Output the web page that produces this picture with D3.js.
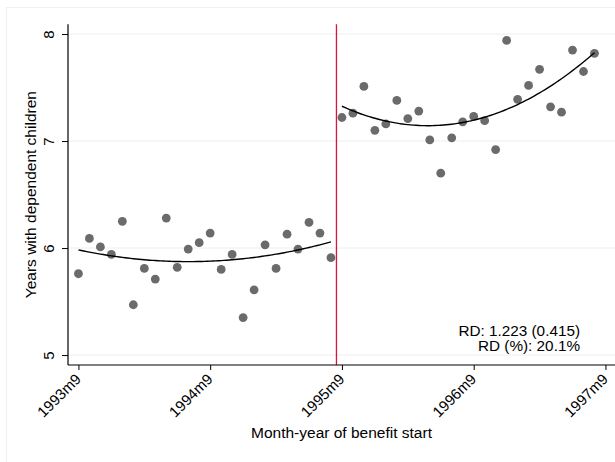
<!DOCTYPE html>
<html>
<head>
<meta charset="utf-8">
<script src="https://cdn.jsdelivr.net/npm/d3@7/dist/d3.min.js"></script>
<style>
  html, body { margin: 0; padding: 0; background: #ffffff; }
  svg { display: block; }
  text { font-family: "Liberation Sans", Arial, Helvetica, sans-serif; fill: #000; }
</style>
</head>
<body>
<svg id="chart" width="615" height="462"></svg>
<script>
// Month index 0 = 1993m9; cutoff between 1995m8 (23) and 1995m9 (24)
const cutoff = 23.5;
const leftMonths  = d3.range(0, 24);
const rightMonths = d3.range(24, 48);

// Mean years with dependent children, by month of benefit start
const leftValues = [5.76, 6.09, 6.01, 5.94, 6.25, 5.47, 5.81, 5.71, 6.28, 5.82, 5.99, 6.05,
                    6.14, 5.80, 5.94, 5.35, 5.61, 6.03, 5.81, 6.13, 5.99, 6.24, 6.14, 5.91];
const rightValues = [7.22, 7.26, 7.51, 7.10, 7.16, 7.38, 7.21, 7.28, 7.01, 6.70, 7.03, 7.18,
                     7.23, 7.19, 6.92, 7.94, 7.39, 7.52, 7.67, 7.32, 7.27, 7.85, 7.65, 7.82];

const xTickMonths = [0, 12, 24, 36, 48];
const xTickLabels = ["1993m9", "1994m9", "1995m9", "1996m9", "1997m9"];
const yTicks = [5, 6, 7, 8];

const rdLines = ["RD: 1.223 (0.415)", "RD (%): 20.1%"];
const xTitle = "Month-year of benefit start";
const yTitle = "Years with dependent children";

const svg = d3.select("#chart");
const plot = { left: 68, right: 615, top: 24.3, bottom: 365 };

const x = d3.scaleLinear().domain([-0.95, 48.87]).range([plot.left, plot.right]);
const y = d3.scaleLinear().domain([4.907, 8.091]).range([plot.bottom, plot.top]);

// faint outer graph-region border
svg.append("rect")
  .attr("x", 6.5).attr("y", 7.5).attr("width", 640).attr("height", 480)
  .attr("fill", "none").attr("stroke", "#eaf1f3").attr("stroke-width", 1);

// horizontal grid lines
svg.append("g").selectAll("line").data(yTicks).join("line")
  .attr("x1", plot.left).attr("x2", plot.right)
  .attr("y1", d => y(d)).attr("y2", d => y(d))
  .attr("stroke", "#e8f0f2").attr("stroke-width", 1);

// quadratic least-squares fit on each side of the cutoff
function quadFit(xs, ys) {
  const S = [0, 0, 0, 0, 0];
  const T = [0, 0, 0];
  xs.forEach((xv, i) => {
    const u = xv - cutoff;
    for (let k = 0; k < 5; k++) S[k] += Math.pow(u, k);
    for (let k = 0; k < 3; k++) T[k] += ys[i] * Math.pow(u, k);
  });
  const A = [[S[0], S[1], S[2], T[0]], [S[1], S[2], S[3], T[1]], [S[2], S[3], S[4], T[2]]];
  for (let c = 0; c < 3; c++) {
    for (let r = c + 1; r < 3; r++) {
      const f = A[r][c] / A[c][c];
      for (let k = c; k < 4; k++) A[r][k] -= f * A[c][k];
    }
  }
  const b = [0, 0, 0];
  for (let r = 2; r >= 0; r--) {
    let s = A[r][3];
    for (let k = r + 1; k < 3; k++) s -= A[r][k] * b[k];
    b[r] = s / A[r][r];
  }
  return t => b[0] + b[1] * (t - cutoff) + b[2] * (t - cutoff) * (t - cutoff);
}

const leftFit = quadFit(leftMonths, leftValues);
const rightFit = quadFit(rightMonths, rightValues);

const line = d3.line().x(d => x(d[0])).y(d => y(d[1]));
function fitPath(f, t0, t1) {
  const pts = [];
  for (let t = t0; t <= t1 + 1e-9; t += 0.25) pts.push([t, f(t)]);
  return pts;
}

// points
const pts = leftMonths.map((m, i) => [m, leftValues[i]])
  .concat(rightMonths.map((m, i) => [m, rightValues[i]]));
svg.append("g").selectAll("circle").data(pts).join("circle")
  .attr("cx", d => x(d[0])).attr("cy", d => y(d[1])).attr("r", 4.4)
  .attr("fill", "#6b6b6b");

// fitted curves
svg.append("path").datum(fitPath(leftFit, 0, 23))
  .attr("d", line).attr("fill", "none").attr("stroke", "#000").attr("stroke-width", 1.4);
svg.append("path").datum(fitPath(rightFit, 24, 47))
  .attr("d", line).attr("fill", "none").attr("stroke", "#000").attr("stroke-width", 1.4);

// cutoff line
svg.append("line")
  .attr("x1", x(cutoff)).attr("x2", x(cutoff))
  .attr("y1", plot.top).attr("y2", plot.bottom)
  .attr("stroke", "#dc143c").attr("stroke-width", 1.3);

// y axis
const yAxis = svg.append("g").attr("transform", `translate(${plot.left},0)`)
  .call(d3.axisLeft(y).tickValues(yTicks).tickSize(6).tickFormat(d3.format("d")));
yAxis.select(".domain").attr("d", `M0,${plot.top}V${plot.bottom}`).attr("stroke", "#000").attr("stroke-width", 1.2);
yAxis.selectAll(".tick line").attr("stroke", "#000");
yAxis.selectAll(".tick text")
  .attr("x", null).attr("dy", null)
  .attr("transform", "translate(-14,0) rotate(-90)")
  .attr("text-anchor", "middle")
  .style("font-size", "15px")
  .style("font-family", "'Liberation Sans', Arial, sans-serif");

// x axis
const xAxis = svg.append("g").attr("transform", `translate(0,${plot.bottom})`)
  .call(d3.axisBottom(x).tickValues(xTickMonths).tickSize(5)
    .tickFormat((d, i) => xTickLabels[i]));
xAxis.select(".domain").attr("d", `M${plot.left},0H${plot.right}`).attr("stroke", "#000").attr("stroke-width", 1.2);
xAxis.selectAll(".tick line").attr("stroke", "#000");
xAxis.selectAll(".tick text")
  .attr("y", null).attr("dy", null)
  .attr("transform", "translate(3,15) rotate(-45)")
  .attr("text-anchor", "end")
  .style("font-size", "15px")
  .style("font-family", "'Liberation Sans', Arial, sans-serif");

// axis titles
svg.append("text")
  .attr("x", (plot.left + plot.right) / 2).attr("y", 438)
  .attr("text-anchor", "middle").style("font-size", "15.5px")
  .text(xTitle);
svg.append("text")
  .attr("transform", `translate(36,${(plot.top + plot.bottom) / 2}) rotate(-90)`)
  .attr("text-anchor", "middle").style("font-size", "15.5px")
  .text(yTitle);

// RD annotation
svg.append("g").selectAll("text").data(rdLines).join("text")
  .attr("x", 580).attr("y", (d, i) => 335.5 + i * 15.5)
  .attr("text-anchor", "end").style("font-size", "15.3px")
  .text(d => d);
</script>
</body>
</html>
